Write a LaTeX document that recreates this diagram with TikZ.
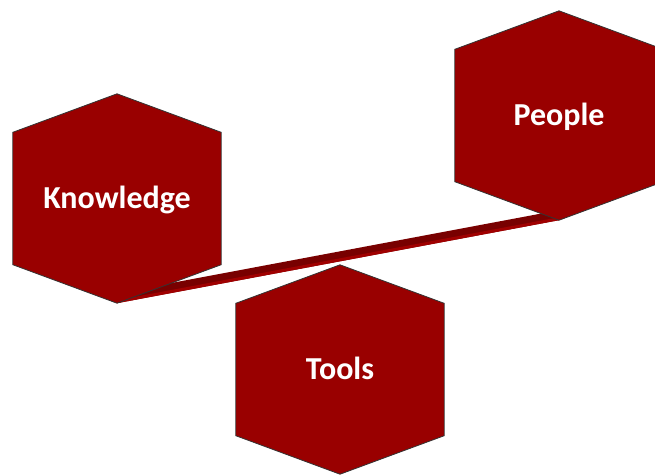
\documentclass[tikz,border=0pt]{standalone}
\usepackage{fontspec}
\setsansfont{Carlito}
\usetikzlibrary{calc, backgrounds}

\definecolor{hexred}{HTML}{990000}
\definecolor{ribbondark}{HTML}{780000}
\definecolor{ribbonlight}{HTML}{A00000}

\begin{document}
\begin{tikzpicture}[
    x=1pt, y=-1pt,
    hexlabel/.style={rectangle, minimum width=208pt, minimum height=209pt, inner sep=0pt, text height=20pt, text depth=0pt, text=white, font=\sffamily\bfseries\fontsize{32}{34}\selectfont},
    hexface/.style={fill=hexred, draw=black!80, line width=0.8pt, line join=miter}
]
    \useasboundingbox (0,0) rectangle (655,475);

    \node [hexlabel] (know) at (117,198.5) {Knowledge};
    \node [hexlabel] (people) at (559,115.5) {People};
    \node [hexlabel] (tools) at (340,369.5) {Tools};

    \begin{pgfonlayer}{background}
        % ribbon joining the lower corners
        \fill [ribbondark] (know.south) -- (people.south) -- ($(people.south)+(0,-10)$) -- ($(know.south)+(0,-10)$) -- cycle;
        \fill [ribbonlight] (know.south) -- (people.south) -- ($(people.south)+(0,-3)$) -- ($(know.south)+(0,-3)$) -- cycle;

        % hexagons around the labels
        \foreach \n in {know, people, tools}
            \draw [hexface] (\n.north) -- ($(\n.north east)+(0,38.5)$) -- ($(\n.south east)-(0,38.5)$)
                -- (\n.south) -- ($(\n.south west)-(0,38.5)$) -- ($(\n.north west)+(0,38.5)$) -- cycle;
    \end{pgfonlayer}
\end{tikzpicture}
\end{document}
